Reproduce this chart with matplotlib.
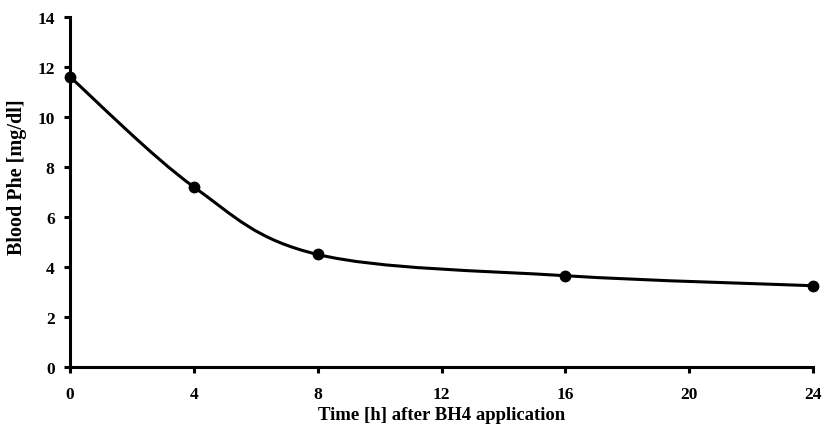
import matplotlib
matplotlib.use("Agg")
import matplotlib.pyplot as plt
from matplotlib.path import Path
from matplotlib.patches import PathPatch
import numpy as np

# data
hours = [0, 4, 8, 16, 24]
phe = [11.6, 7.2, 4.5, 3.65, 3.25]
xticks = [0, 4, 8, 12, 16, 20, 24]
yticks = [0, 2, 4, 6, 8, 10, 12, 14]

plt.rcParams['font.family'] = ['Liberation Serif', 'DejaVu Serif']
plt.rcParams['font.weight'] = 'bold'

fig = plt.figure(figsize=(8.23, 4.35), dpi=100)
ax = fig.add_axes((0.085, 0.154, 0.903, 0.805))

# smoothed line, excel style (catmull-rom bezier through the points)
x = np.array(hours, float)
y = np.array(phe, float)
verts = [(x[0], y[0])]
codes = [Path.MOVETO]
n = len(x)
for i in range(n - 1):
    p0 = (x[max(i - 1, 0)], y[max(i - 1, 0)])
    p1 = (x[i], y[i])
    p2 = (x[i + 1], y[i + 1])
    p3 = (x[min(i + 2, n - 1)], y[min(i + 2, n - 1)])
    c1 = (p1[0] + (p2[0] - p0[0]) / 6, p1[1] + (p2[1] - p0[1]) / 6)
    c2 = (p2[0] - (p3[0] - p1[0]) / 6, p2[1] - (p3[1] - p1[1]) / 6)
    verts += [c1, c2, p2]
    codes += [Path.CURVE4] * 3
ax.add_patch(PathPatch(Path(verts, codes), fc='none', ec='black', lw=2.2,
                       clip_on=False))
ax.plot(hours, phe, 'o', color='black', ms=7.5, clip_on=False, zorder=3)

ax.set_xlim(0, 24)
ax.set_ylim(0, 14)
ax.set_xticks(xticks)
ax.set_yticks(yticks)
for s in ['top', 'right']:
    ax.spines[s].set_visible(False)
for s in ['left', 'bottom']:
    ax.spines[s].set_linewidth(2.2)
ax.tick_params(direction='out', length=4, width=2.2, labelsize=12.5)
ax.tick_params(axis='x', pad=10)
ax.tick_params(axis='y', pad=7)
ax.set_xlabel('Time [h] after BH4 application', fontsize=13.5, fontweight='bold')
ax.set_ylabel('Blood Phe [mg/dl]', fontsize=14.5, fontweight='bold')
ax.xaxis.set_label_coords(0.5, -0.11)
ax.yaxis.set_label_coords(-0.058, 0.546)

fig.savefig('out.png', dpi=100)
